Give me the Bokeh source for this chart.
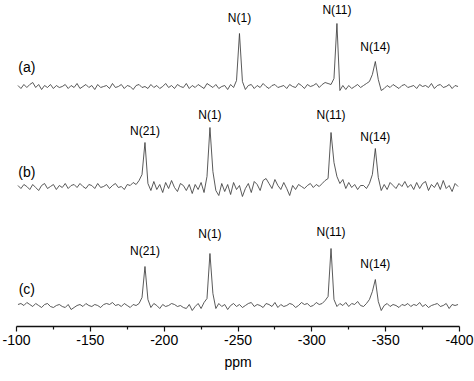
import numpy as np
from bokeh.plotting import figure
from bokeh.models import Range1d, FixedTicker
from bokeh.embed import file_html
from bokeh.resources import INLINE
from bokeh.core.properties import value

# chemical shift grid (ppm), 2 ppm sampling
ppm = np.arange(-101, -400, -2)

# intensities (arbitrary units, baseline = 0)
spec_a = [
    1, -2, 2, -1, 2, 4, -1, 2, -3, 1, -1, 2, -2, 1, -1,
    0, 2, -2, 1, -1, 3, -2, 0, 2, -1, 1, -3, 2, -1, 0,
    1, -2, 3, -1, 0, 2, -2, 1, 0, -3, 1, 2, -1, 0, -2,
    2, -1, 1, -2, 0, 3, -1, 1, -2, 2, 0, -1, 3, -2, 1,
    -1, 2, 0, -2, 3, 1, -1, 2, -2, 0, 1, -3, 2, -1, 6,
    53, 5, -3, 1, 2, -2, 1, -1, 3, 0, -2, 1, 2, -1, 0,
    1, -2, 2, 0, -1, 3, 1, -2, 2, 0, 1, 3, -1, 2, 4,
    3, 2, 8, 63, -4, 1, -3, 1, -2, 0, 2, -1, 1, 3, 5,
    12, 25, 7, -4, -2, 1, -1, 2, 0, -2, 1, 2, -1, 0, 1,
    -2, 2, 0, 1, -1, 3, -2, 1, 2, -1, 0, 2, -2, 1, 0,
]
spec_b = [
    1, -2, 2, 0, -3, 2, -1, -4, 1, 3, -2, 0, 2, -3, 1,
    -1, 3, -2, 1, 2, -1, 3, 0, -2, 2, 1, -2, 3, -1, 0,
    2, -2, 1, 3, -1, 0, -3, 2, 1, 4, 2, 6, 12, 44, 3,
    -4, 5, -3, 2, -6, 4, -2, 6, -1, -5, 3, 1, -4, 2, -7,
    2, -3, 4, -6, 10, 59, 15, -4, -9, 3, -5, 2, -8, 4, -3,
    1, -10, -2, 3, -6, 5, 2, -4, 6, 8, 3, -2, 7, 1, -3,
    4, -2, -9, 1, -3, 2, 0, -2, 1, 3, -1, 2, 0, 3, 6,
    8, 54, 24, 10, 3, 7, -2, 4, -1, 2, -3, 1, 1, -2, 3,
    12, 38, 9, -4, 2, -3, 4, 1, -2, 3, 0, 5, -1, 2, -3,
    4, -2, 3, 5, -4, 2, -1, 4, -3, 6, -2, 1, -5, 3, 0,
]
spec_c = [
    1, 2, 0, 3, 1, -1, 2, 0, -2, 1, 2, -1, -2, 0, 1,
    -1, -2, 1, -4, -2, 0, 1, -1, 2, 0, -1, 1, 0, -2, 1,
    2, 1, 3, 0, 1, -1, 2, 0, -2, 1, 0, 2, 8, 39, 6,
    -2, 2, 0, -3, 1, -1, 0, 2, 1, -1, 0, -2, -3, 1, -5,
    -1, 2, -3, 3, 7, 52, 12, -3, 2, -1, 1, -4, 0, 2, -1,
    1, -2, 0, 2, 3, -1, 1, 0, -2, 2, 1, -1, 3, -2, 1,
    -1, 0, 2, 1, -2, 0, 3, 1, 2, -1, 0, 3, 1, 2, 5,
    9, 57, 6, -1, 2, 0, 3, -1, 2, 1, 4, 0, -1, 2, 6,
    14, 26, 4, -5, 0, 2, -1, 1, 0, -2, 1, 0, 2, -1, 1,
    0, 3, -1, 1, -2, 0, 1, 2, -1, 0, 2, -3, 1, 0, 1,
]

# peak assignments
names_a = ["N(1)", "N(11)", "N(14)"]
shifts_a = [-251, -317, -343]
names_b = ["N(21)", "N(1)", "N(11)", "N(14)"]
shifts_b = [-187, -231, -313, -343]
names_c = ["N(21)", "N(1)", "N(11)", "N(14)"]
shifts_c = [-187, -231, -313, -343]
trace_names = ["(a)", "(b)", "(c)"]

# axis ticks
tick_values = [-100, -150, -200, -250, -300, -350, -400]
tick_labels = ["-100", "-150", "-200", "-250", "-300", "-350", "-400"]
minor_tick_values = [-125, -175, -225, -275, -325, -375]

# layout (vertical stacking offsets and label heights)
offsets = [240, 140, 21]
label_y_a = [309, 317, 280]
label_y_b = [196, 212, 212, 190]
label_y_c = [76, 93, 95, 63]
trace_label_y = [260, 155, 38]
trace_label_x = -107

FONT = "Liberation Sans"
INK = "#000000"

p = figure(width=474, height=381,
           x_range=Range1d(-100, -400), y_range=Range1d(0, 326),
           output_backend="svg", toolbar_location=None,
           y_axis_location=None,
           min_border_left=16, min_border_right=15,
           min_border_top=0, min_border_bottom=55)

p.xgrid.visible = False
p.ygrid.visible = False
p.outline_line_color = None
p.background_fill_color = "white"
p.border_fill_color = "white"

LINE = "#3c3c3c"
for spec, off in zip([spec_a, spec_b, spec_c], offsets):
    p.line(ppm, np.array(spec) + off, line_color=LINE, line_width=0.85)

for names, shifts, ly in [(names_a, shifts_a, label_y_a),
                          (names_b, shifts_b, label_y_b),
                          (names_c, shifts_c, label_y_c)]:
    p.text(x=shifts, y=ly, text=names, text_align="center",
           text_baseline="middle", text_font=value(FONT),
           text_font_size="12px", text_color=INK)

p.text(x=[trace_label_x] * 3, y=trace_label_y, text=trace_names,
       text_align="center", text_baseline="middle",
       text_font=value(FONT), text_font_size="14px", text_color=INK)

ax = p.xaxis[0]
ax.ticker = FixedTicker(ticks=tick_values, minor_ticks=minor_tick_values)
ax.major_label_overrides = {v: s for v, s in zip(tick_values, tick_labels)}
ax.axis_label = "ppm"
ax.axis_label_text_font = FONT
ax.axis_label_text_font_size = "14px"
ax.axis_label_text_font_style = "normal"
ax.axis_label_text_color = INK
ax.axis_label_standoff = 6
ax.major_label_text_font = FONT
ax.major_label_text_font_size = "14px"
ax.major_label_text_color = INK
ax.major_label_standoff = 3
ax.axis_line_color = "#111111"
ax.axis_line_width = 1.5
ax.major_tick_line_color = "#111111"
ax.major_tick_line_width = 1.2
ax.minor_tick_line_color = "#111111"
ax.minor_tick_line_width = 1.2
ax.major_tick_in = 0
ax.major_tick_out = 5
ax.minor_tick_in = 0
ax.minor_tick_out = 3

open("out.html", "w").write(file_html(p, INLINE))
